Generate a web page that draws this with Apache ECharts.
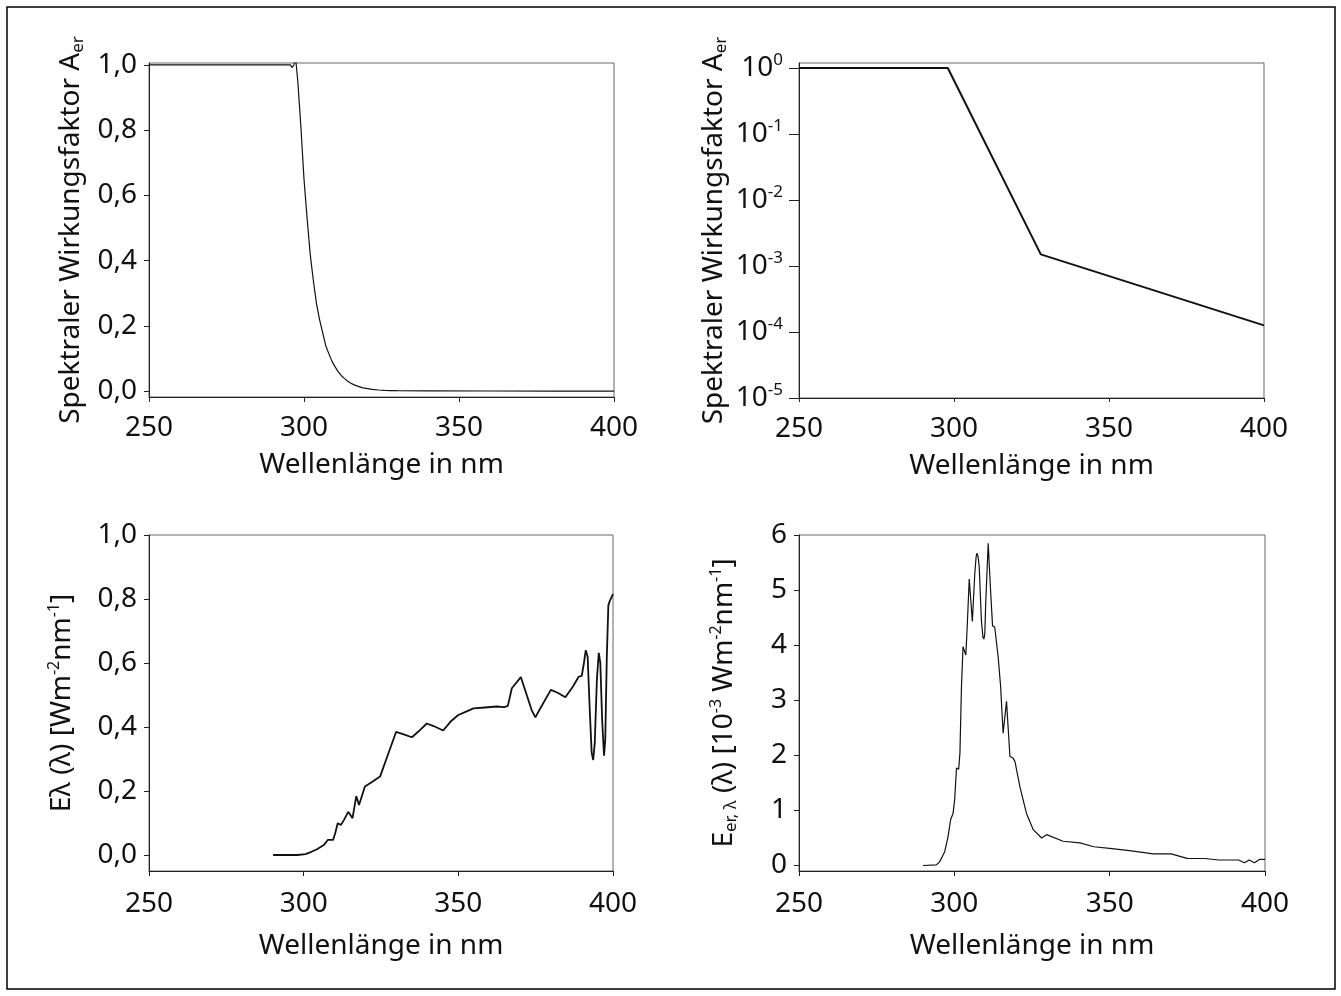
<!DOCTYPE html>
<html>
<head>
<meta charset="utf-8">
<script src="https://cdn.jsdelivr.net/npm/echarts@6/dist/echarts.min.js"></script>
<style>
html,body{margin:0;padding:0;background:#fff;}
#c{width:1341px;height:996px;}
</style>
</head>
<body>
<div id="c"></div>
<script>
// ---------- DATA ----------
const xTicks = [250, 300, 350, 400];

// Panel 1: spectral erythema action factor (linear)
const wl1  = [250, 290, 295.6, 296.2, 296.7, 297.3, 298, 299, 300, 301, 302, 303, 304, 305, 306, 307, 308, 309, 310, 311, 312, 313, 314, 315, 316, 317, 318, 319, 320, 322, 324, 326, 328, 330, 340, 360, 380, 400];
const aer1 = [1.0, 1.0, 1.0, 0.992, 1.0, 1.02, 0.95, 0.81, 0.65, 0.53, 0.42, 0.34, 0.27, 0.22, 0.18, 0.14, 0.115, 0.092, 0.075, 0.06, 0.048, 0.039, 0.031, 0.025, 0.02, 0.016, 0.013, 0.01, 0.0086, 0.0055, 0.0035, 0.0023, 0.0015, 0.0013, 0.00087, 0.0004, 0.0002, 0.0001];
const yTicks1 = [0, 0.2, 0.4, 0.6, 0.8, 1.0];

// Panel 2: same factor on log scale
const wl2  = [250, 298, 328, 400];
const aer2 = [1.0, 1.0, 0.0015, 0.000126];
const yTicks2 = [0.00001, 0.0001, 0.001, 0.01, 0.1, 1];

// Panel 3: spectral irradiance E lambda
const wl3 = [290.1, 298, 300.6, 302.5, 304.3, 305.6, 306.5, 307.8, 309.5, 310.2, 311, 312, 313, 314.4, 315, 315.8, 317, 317.9, 319.8, 322.2, 324.7, 327.2, 329.9, 332.1, 335, 337, 339.8, 342, 345.1, 347.5, 350, 352.5, 354.9, 358.6, 362.3, 364.8, 366, 367.3, 370.2, 373.7, 374.9, 376.2, 379.9, 382.1, 384.6, 387, 388.9, 389.9, 390.6, 391.2, 391.8, 392.5, 393.1, 393.6, 394.1, 394.8, 395.4, 395.9, 396.5, 397.1, 397.5, 398.0, 398.5, 399.0, 399.5, 400];
const e3  = [0, 0, 0.003, 0.01, 0.018, 0.026, 0.031, 0.047, 0.047, 0.068, 0.099, 0.094, 0.109, 0.135, 0.14, 0.115, 0.184, 0.156, 0.214, 0.229, 0.245, 0.3125, 0.385, 0.378, 0.368, 0.385, 0.411, 0.403, 0.389, 0.417, 0.4375, 0.448, 0.458, 0.461, 0.464, 0.462, 0.466, 0.521, 0.556, 0.453, 0.43, 0.453, 0.516, 0.507, 0.493, 0.526, 0.557, 0.56, 0.6, 0.64, 0.62, 0.45, 0.32, 0.297, 0.35, 0.55, 0.632, 0.6, 0.42, 0.31, 0.36, 0.62, 0.78, 0.795, 0.8, 0.815];
const yTicks3 = [0, 0.2, 0.4, 0.6, 0.8, 1.0];

// Panel 4: erythema weighted irradiance (10^-3 W m^-2 nm^-1)
const wl4 = [289.9, 294.2, 295.3, 296.9, 298.0, 298.8, 299.6, 300.1, 300.7, 301.4, 301.8, 302.3, 302.8, 303.7, 304.1, 304.8, 305.8, 306.6, 307.0, 307.3, 307.6, 308.0, 308.7, 309.2, 309.5, 309.8, 310.1, 310.9, 311.6, 312.3, 313.0, 314.1, 314.9, 315.7, 316.8, 317.9, 318.9, 319.5, 321.1, 323.2, 325.4, 328.1, 329.7, 335, 340.4, 344.9, 350, 356.4, 364, 369.8, 374.9, 380.6, 385.1, 391.5, 393.4, 394.9, 396.6, 398.2, 400];
const e4  = [0, 0.01, 0.07, 0.25, 0.53, 0.83, 0.95, 1.19, 1.77, 1.75, 2.04, 3.25, 3.97, 3.82, 4.28, 5.2, 4.43, 5.31, 5.6, 5.67, 5.62, 5.43, 4.46, 4.15, 4.11, 4.2, 4.76, 5.85, 5.06, 4.35, 4.33, 3.79, 3.25, 2.40, 2.98, 1.98, 1.95, 1.89, 1.43, 0.95, 0.65, 0.50, 0.56, 0.44, 0.41, 0.34, 0.31, 0.27, 0.21, 0.21, 0.13, 0.127, 0.10, 0.10, 0.05, 0.10, 0.05, 0.11, 0.11];
const yTicks4 = [0, 1, 2, 3, 4, 5, 6];

// ---------- CHART ----------
const FONT = '"Noto Sans", "Open Sans", sans-serif';
const FS = 28;
const TXT = '#111';
const AXC = '#222';

const zip = (a, b) => a.map((v, i) => [v, b[i]]);

const rich = {
  n:   {fontSize: FS, fontFamily: FONT, color: TXT, lineHeight: 32},
  sup: {fontSize: 16, fontFamily: FONT, color: TXT, lineHeight: 16, verticalAlign: 'top'},
  sub: {fontSize: 17, fontFamily: FONT, color: TXT, lineHeight: 14, verticalAlign: 'bottom'}
};

const grids = [
  {left: 149, top: 63, width: 465, height: 334},
  {left: 799, top: 63, width: 465, height: 335},
  {left: 149, top: 535, width: 464, height: 336},
  {left: 799, top: 535, width: 466, height: 336}
];

function xAxisFor(i, tickLen, gap, margin) {
  return {
    type: 'value', gridIndex: i, min: 250, max: 400, interval: 50,
    name: 'Wellenlänge in nm', nameLocation: 'middle', nameGap: gap,
    nameTextStyle: {fontSize: FS, fontFamily: FONT, color: TXT},
    axisLine: {show: true, onZero: false, lineStyle: {color: AXC, width: 1}},
    axisTick: {show: true, length: tickLen, lineStyle: {color: AXC, width: 1}},
    axisLabel: {show: true, fontSize: FS, fontFamily: FONT, color: TXT, margin: margin, customValues: xTicks},
    splitLine: {show: false}
  };
}

const comma1 = v => (Math.round(v * 10) / 10).toFixed(1).replace('.', ',');

const option = {
  animation: false,
  backgroundColor: '#fff',
  textStyle: {fontFamily: FONT},
  graphic: [{
    type: 'rect', silent: true,
    shape: {x: 7, y: 7, width: 1328, height: 982},
    style: {fill: 'none', stroke: '#000', lineWidth: 1.5}
  }],
  grid: grids.map(g => Object.assign({show: true, borderColor: '#666', borderWidth: 1, backgroundColor: 'transparent', containLabel: false, outerBoundsMode: 'none'}, g)),
  xAxis: [
    xAxisFor(0, 5, 54, 17),
    xAxisFor(1, 4, 54, 17),
    xAxisFor(2, 5, 61, 19),
    xAxisFor(3, 5, 61, 19)
  ],
  yAxis: [
    {
      type: 'value', gridIndex: 0, min: -0.018, max: 1.006,
      name: '{n|Spektraler Wirkungsfaktor A}{sub|er}', nameLocation: 'middle', nameGap: 62,
      nameTextStyle: {rich: rich},
      axisLine: {show: true, lineStyle: {color: AXC, width: 1}},
      axisTick: {show: true, length: 5, customValues: yTicks1, lineStyle: {color: AXC}},
      axisLabel: {show: true, fontSize: FS, fontFamily: FONT, color: TXT, margin: 12, customValues: yTicks1, formatter: comma1},
      splitLine: {show: false}
    },
    {
      type: 'log', logBase: 10, gridIndex: 1, min: 0.00001, max: 1.19,
      name: '{n|Spektraler Wirkungsfaktor A}{sub|er}', nameLocation: 'middle', nameGap: 69,
      nameTextStyle: {rich: rich},
      axisLine: {show: true, lineStyle: {color: AXC, width: 1}},
      axisTick: {show: true, length: 10, customValues: yTicks2, lineStyle: {color: AXC}},
      axisLabel: {
        show: true, margin: 16, customValues: yTicks2,
        formatter: v => {
          const e = Math.log10(v);
          if (Math.abs(e - Math.round(e)) > 1e-6) return '';
          return '{b|10}{s|' + Math.round(e) + '}';
        },
        rich: {
          b: {fontSize: FS, fontFamily: FONT, color: TXT, lineHeight: 32},
          s: {fontSize: 17, fontFamily: FONT, color: TXT, lineHeight: 18, verticalAlign: 'top'}
        }
      },
      splitLine: {show: false}
    },
    {
      type: 'value', gridIndex: 2, min: -0.05, max: 1.0,
      name: '{n|Eλ (λ) [Wm}{sup|-2}{n|nm}{sup|-1}{n|]}', nameLocation: 'middle', nameGap: 71,
      nameTextStyle: {rich: rich},
      axisLine: {show: true, lineStyle: {color: AXC, width: 1}},
      axisTick: {show: true, length: 5, customValues: yTicks3, lineStyle: {color: AXC}},
      axisLabel: {show: true, fontSize: FS, fontFamily: FONT, color: TXT, margin: 12, customValues: yTicks3, formatter: comma1},
      splitLine: {show: false}
    },
    {
      type: 'value', gridIndex: 3, min: -0.1, max: 6,
      name: '{n|E}{sub|er, λ}{n| (λ) [10}{sup|-3}{n| Wm}{sup|-2}{n|nm}{sup|-1}{n|]}', nameLocation: 'middle', nameGap: 59,
      nameTextStyle: {rich: rich},
      axisLine: {show: true, lineStyle: {color: AXC, width: 1}},
      axisTick: {show: true, length: 5, customValues: yTicks4, lineStyle: {color: AXC}},
      axisLabel: {show: true, fontSize: FS, fontFamily: FONT, color: TXT, margin: 12, customValues: yTicks4, formatter: v => String(Math.round(v))},
      splitLine: {show: false}
    }
  ],
  series: [
    {type: 'line', xAxisIndex: 0, yAxisIndex: 0, data: zip(wl1, aer1), showSymbol: false, symbol: 'none', clip: true, lineStyle: {color: '#111', width: 1.2}},
    {type: 'line', xAxisIndex: 1, yAxisIndex: 1, data: zip(wl2, aer2), showSymbol: false, symbol: 'none', clip: true, lineStyle: {color: '#111', width: 2}},
    {type: 'line', xAxisIndex: 2, yAxisIndex: 2, data: zip(wl3, e3), showSymbol: false, symbol: 'none', clip: true, lineStyle: {color: '#111', width: 1.8}},
    {type: 'line', xAxisIndex: 3, yAxisIndex: 3, data: zip(wl4, e4), showSymbol: false, symbol: 'none', clip: true, lineStyle: {color: '#111', width: 1.2}}
  ]
};

const chart = echarts.init(document.getElementById('c'), null, {renderer: 'canvas'});
chart.setOption(option);
</script>
</body>
</html>
